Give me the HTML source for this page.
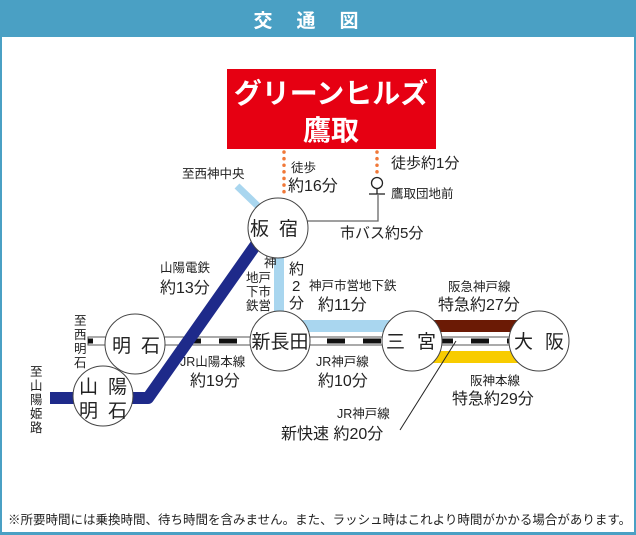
<!DOCTYPE html>
<html><head><meta charset="utf-8"><style>
html,body{margin:0;padding:0;background:#fff}
svg{display:block}
text{font-family:"Liberation Sans","Noto Sans CJK JP",sans-serif;fill:#222}
</style></head><body>
<svg width="636" height="535" viewBox="0 0 636 535" xmlns="http://www.w3.org/2000/svg">
<rect x="0" y="0" width="636" height="535" fill="#4aa0c4"/>
<rect x="2" y="37" width="632" height="495" fill="#fff"/>
<text x="318" y="27" text-anchor="middle" font-size="19" font-weight="bold" style="fill:#fff" letter-spacing="24">交通図</text>

<rect x="227" y="69" width="209" height="80" fill="#e60012"/>
<text x="331" y="103" text-anchor="middle" font-size="28" font-weight="bold" style="fill:#fff">グリーンヒルズ</text>
<text x="331" y="140" text-anchor="middle" font-size="28" font-weight="bold" style="fill:#fff">鷹取</text>

<line x1="284" y1="152" x2="284" y2="195" stroke="#f07838" stroke-width="3.5" stroke-dasharray="0.1 6.5" stroke-linecap="round"/>
<line x1="377" y1="152" x2="377" y2="172" stroke="#f07838" stroke-width="3.5" stroke-dasharray="0.1 6.5" stroke-linecap="round"/>
<text x="291" y="172" font-size="12.5">徒歩</text>
<text x="288" y="191" font-size="16">約16分</text>
<text x="391" y="168" font-size="15">徒歩約1分</text>
<text x="391" y="198" font-size="12.5">鷹取団地前</text>

<circle cx="377" cy="183" r="5.5" fill="#fff" stroke="#222" stroke-width="1.3"/>
<line x1="377" y1="188" x2="377" y2="194" stroke="#222" stroke-width="1.3"/>
<line x1="369" y1="194" x2="385" y2="194" stroke="#222" stroke-width="1.3"/>
<polyline points="306,221 378,221 378,195" fill="none" stroke="#666" stroke-width="1.3"/>
<text x="340" y="238" font-size="15">市バス約5分</text>

<line x1="237" y1="186" x2="262" y2="210" stroke="#a9d6ef" stroke-width="7"/>
<text x="182" y="178" font-size="12.5">至西神中央</text>
<rect x="274" y="250" width="10" height="80" fill="#a9d6ef"/>
<rect x="300" y="320" width="100" height="12" fill="#a9d6ef"/>
<text x="264" y="267" font-size="12.5">神</text>
<text x="246" y="282" font-size="12.5">地戸</text>
<text x="246" y="296" font-size="12.5">下市</text>
<text x="246" y="310" font-size="12.5">鉄営</text>
<text x="289" y="274" font-size="15">約</text>
<text x="292" y="291" font-size="15">2</text>
<text x="289" y="308" font-size="15">分</text>
<text x="309" y="290" font-size="12.5">神戸市営地下鉄</text>
<text x="318" y="310" font-size="16">約11分</text>

<rect x="433" y="320" width="86" height="12" fill="#6b1a05"/>
<rect x="433" y="351" width="86" height="12" fill="#f8cc00"/>
<text x="448" y="291" font-size="12.5">阪急神戸線</text>
<text x="438" y="310" font-size="16">特急約27分</text>
<text x="470" y="385" font-size="12.5">阪神本線</text>
<text x="452" y="404" font-size="16">特急約29分</text>

<rect x="88" y="337" width="480" height="8" fill="#fff" stroke="#555" stroke-width="1"/>
<line x1="88" y1="341" x2="568" y2="341" stroke="#111" stroke-width="5" stroke-dasharray="18 18" stroke-dashoffset="-95"/>
<line x1="456" y1="341" x2="400" y2="430" stroke="#222" stroke-width="1"/>
<text x="180" y="366" font-size="12.5">JR山陽本線</text>
<text x="190" y="386" font-size="16">約19分</text>
<text x="316" y="366" font-size="12.5">JR神戸線</text>
<text x="318" y="386" font-size="16">約10分</text>
<text x="337" y="418" font-size="12.5">JR神戸線</text>
<text x="281" y="439" font-size="16">新快速 約20分</text>

<polyline points="50,398 148,398 262,236" fill="none" stroke="#1e2a8a" stroke-width="12" stroke-linejoin="round"/>
<text x="160" y="272" font-size="12.5">山陽電鉄</text>
<text x="160" y="293" font-size="16">約13分</text>
<text x="74" y="325" font-size="12.5">至</text>
<text x="74" y="339" font-size="12.5">西</text>
<text x="74" y="353" font-size="12.5">明</text>
<text x="74" y="367" font-size="12.5">石</text>
<text x="30" y="376" font-size="12.5">至</text>
<text x="30" y="390" font-size="12.5">山</text>
<text x="30" y="404" font-size="12.5">陽</text>
<text x="30" y="418" font-size="12.5">姫</text>
<text x="30" y="432" font-size="12.5">路</text>

<g fill="#fff" stroke="#444" stroke-width="1">
<circle cx="278" cy="228" r="30"/>
<circle cx="135" cy="344" r="30"/>
<circle cx="103" cy="396" r="30"/>
<circle cx="280" cy="341" r="30"/>
<circle cx="412" cy="341" r="30"/>
<circle cx="539" cy="341" r="30"/>
</g>
<text x="279" y="235" text-anchor="middle" font-size="19" letter-spacing="10">板宿</text>
<text x="141" y="352" text-anchor="middle" font-size="19" letter-spacing="10">明石</text>
<text x="108" y="393" text-anchor="middle" font-size="19" letter-spacing="10">山陽</text>
<text x="108" y="417" text-anchor="middle" font-size="19" letter-spacing="10">明石</text>
<text x="280" y="348" text-anchor="middle" font-size="19">新長田</text>
<text x="417" y="348" text-anchor="middle" font-size="19" letter-spacing="12">三宮</text>
<text x="545" y="348" text-anchor="middle" font-size="19" letter-spacing="12">大阪</text>

<text x="8" y="524" font-size="12.5">※所要時間には乗換時間、待ち時間を含みません。また、ラッシュ時はこれより時間がかかる場合があります。</text>
</svg>
</body></html>
